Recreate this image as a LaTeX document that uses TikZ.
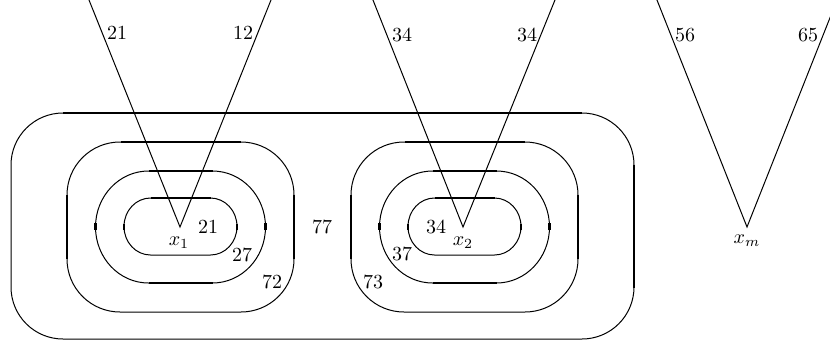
\documentclass[tikz,border=0pt]{standalone}
\begin{document}
\begin{tikzpicture}[x=0.5pt,y=-0.5pt,
  thinline/.style={line width=0.5pt},
  thickline/.style={line width=1.1pt},
  medline/.style={line width=0.75pt},
  lbl/.style={inner sep=0pt,font=\normalsize}]
\useasboundingbox (0,0) rectangle (830,344);
\clip (0,0) rectangle (830,344);
% outer box
\draw[thinline,rounded corners=26pt] (11,113) rectangle (634,339);
\draw[thickline] (63,113) -- (582,113);
\draw[medline] (634,165) -- (634,288);
% boxes around x_1 and x_2
\foreach \cx in {180.5,464.5}{
  % middle box
  \draw[thinline,rounded corners=26.5pt] (\cx-113.5,142) rectangle (\cx+113.5,312);
  \draw[thickline] (\cx-60,142) -- (\cx+60,142);
  \draw[thickline] (\cx-113.5,195) -- (\cx-113.5,259);
  \draw[thickline] (\cx+113.5,195) -- (\cx+113.5,259);
  % third box
  \draw[thinline] (\cx-32,171) -- (\cx+32,171)
     arc[start angle=90,end angle=-90,x radius=26.5pt,y radius=28pt]
     -- (\cx-32,283)
     arc[start angle=270,end angle=90,x radius=26.5pt,y radius=28pt] -- cycle;
  \draw[medline] (\cx-32,171) -- (\cx+32,171);
  \draw[thickline] (\cx-32,283) -- (\cx+32,283);
  \draw[thickline] (\cx-85,223) -- (\cx-85,230);
  \draw[thickline] (\cx+85,223) -- (\cx+85,230);
  % inner box
  \draw[thinline] (\cx-30,198) -- (\cx+30,198)
     arc[start angle=90,end angle=-90,x radius=13.25pt,y radius=14.25pt]
     -- (\cx-30,255)
     arc[start angle=270,end angle=90,x radius=13.25pt,y radius=14.25pt] -- cycle;
  \draw[thickline] (\cx-30,198) -- (\cx+30,198);
  \draw[thickline] (\cx-56.5,223.5) -- (\cx-56.5,229.5);
  \draw[thickline] (\cx+56.5,223.5) -- (\cx+56.5,229.5);
}
% vertices and V-shaped lines
\coordinate (v1) at (180,227);
\coordinate (v2) at (463,227);
\coordinate (v3) at (747,227);
\coordinate (a1) at (87,-5);  \coordinate (b1) at (273,-5);
\coordinate (a2) at (371,-5); \coordinate (b2) at (557,-5);
\coordinate (a3) at (655,-5); \coordinate (b3) at (839,-5);
\draw[thinline] (a1) -- (v1) -- (b1);
\draw[thinline] (a2) -- (v2) -- (b2);
\draw[thinline] (a3) -- (v3) -- (b3);
% labels
\node[lbl] (l21a) at (117,33) {21};
\node[lbl] (l12)  at (243,33) {12};
\node[lbl] (l34a) at (402,35) {34};
\node[lbl] (l34b) at (527,35) {34};
\node[lbl] (l56)  at (685,35) {56};
\node[lbl] (l65)  at (808,35) {65};
\node[lbl] (l21b) at (208,227) {21};
\node[lbl] (x1)   at (179,243) {$x_1$};
\node[lbl] (l27)  at (242,255) {27};
\node[lbl] (l72)  at (272,282) {72};
\node[lbl] (l77)  at (322,227) {77};
\node[lbl] (l34c) at (436,227) {34};
\node[lbl] (x2)   at (463,243) {$x_2$};
\node[lbl] (l37)  at (402,254) {37};
\node[lbl] (l73)  at (373,282) {73};
\node[lbl] (xm)   at (747,241) {$x_m$};
\end{tikzpicture}
\end{document}
